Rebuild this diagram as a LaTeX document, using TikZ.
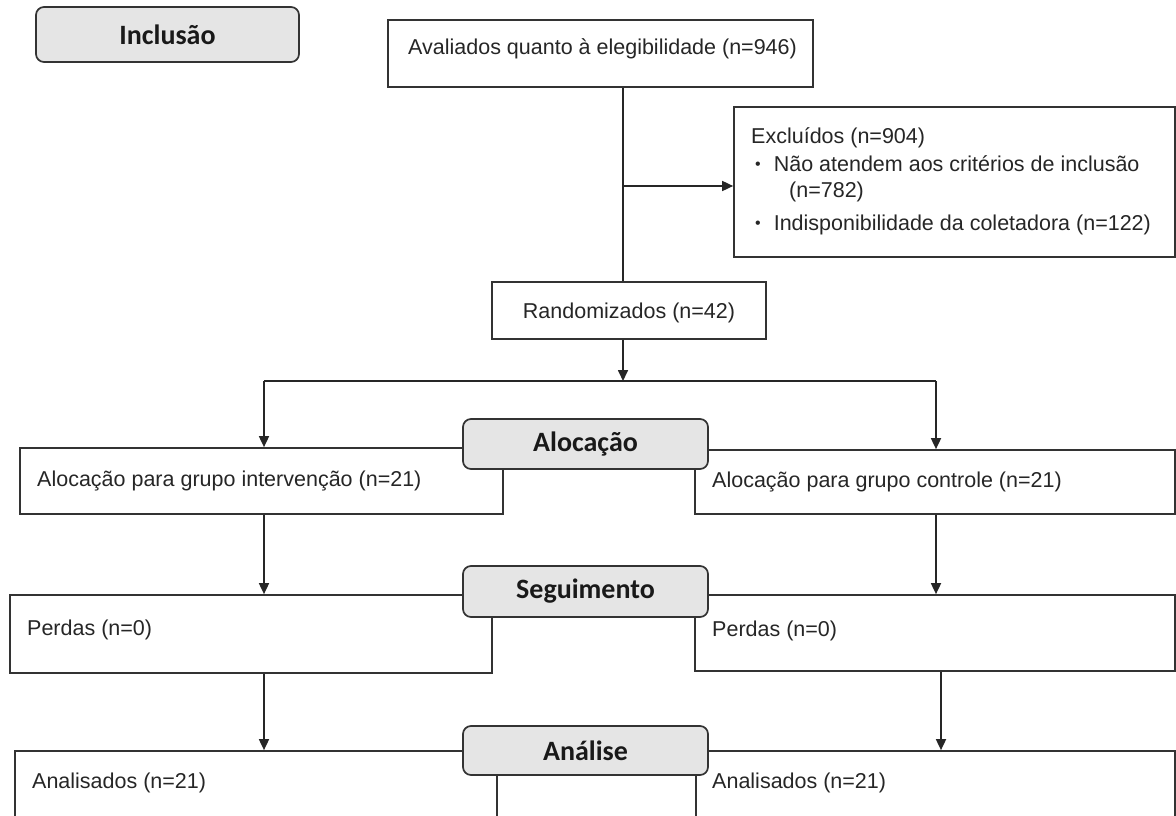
\documentclass[tikz,border=0pt]{standalone}
\usepackage{fontspec}
\setmainfont{Liberation Sans}
\newfontfamily\calibri{Carlito}
\usetikzlibrary{arrows.meta,fit}
\newcommand{\smbullet}{{\fontsize{16}{16}\selectfont\raisebox{1.5pt}{•}}}
\begin{document}
\begin{tikzpicture}[x=1pt,y=-1pt,
  box/.style={draw=black!80, line width=1.7pt, fill=white, inner sep=0pt},
  lbl/.style={draw=black!80, line width=1.7pt, fill=black!10, rounded corners=8pt, inner sep=0pt},
  head/.style={font=\calibri\bfseries\fontsize{28}{30}\selectfont, text=black!90},
  txt/.style={font=\fontsize{21.5}{24}\selectfont, inner sep=0pt, anchor=base west, text=black!85},
  ln/.style={draw=black!85, line width=1.7pt},
  arr/.style={ln, -{Triangle[length=11pt,width=10pt]}}]
\clip (0,0) rectangle (1176,816);
\fill[white] (0,0) rectangle (1176,816);

% boxes
\node[box, fit={(388,20) (813,87)}] (elig) {};
\node[box, fit={(734,107) (1175,257)}] (excl) {};
\node[box, fit={(492,282) (766,339)}] (rand) {};
\node[box, fit={(20,448) (503,514)}] (allocL) {};
\node[box, fit={(695,450) (1175,514)}] (allocR) {};
\node[box, fit={(10,595) (492,673)}] (perdL) {};
\node[box, fit={(695,595) (1175,671)}] (perdR) {};
\node[box, fit={(15,751) (497,840)}] (analL) {};
\node[box, fit={(696,751) (1175,840)}] (analR) {};

% texts
\node[txt] (eligt) at (408,55) {Avaliados quanto à elegibilidade (n=946)};
\node[txt] (ex1) at (751,143) {Excluídos (n=904)};
\node[txt] (ex2) at (755,171) {\smbullet\hspace{13pt}Não atendem aos critérios de inclusão};
\node[txt] (ex3) at (789,197) {(n=782)};
\node[txt] (ex4) at (755,230) {\smbullet\hspace{13pt}Indisponibilidade da coletadora (n=122)};
\node[txt, anchor=base] (randt) at (629,318) {Randomizados (n=42)};
\node[txt] (allocLt) at (37,486) {Alocação para grupo intervenção (n=21)};
\node[txt] (allocRt) at (712,487) {Alocação para grupo controle (n=21)};
\node[txt] (perdLt) at (27,635) {Perdas (n=0)};
\node[txt] (perdRt) at (712,636) {Perdas (n=0)};
\node[txt] (analLt) at (32,788) {Analisados (n=21)};
\node[txt] (analRt) at (712,788) {Analisados (n=21)};

% connectors
\coordinate (jM) at (623,381);
\coordinate (jL) at (264,381);
\coordinate (jR) at (936,381);
\coordinate (jR2) at (941,700);
\coordinate (br) at (623,186);
\draw[ln] (elig.south -| jM) -- (rand.north -| jM);
\draw[arr] (br) -- (excl.west |- br);
\draw[arr] (rand.south -| jM) -- (jM);
\draw[ln] (jL) -- (jR);
\draw[arr] (jL) -- (allocL.north -| jL);
\draw[arr] (jR) -- (allocR.north -| jR);
\draw[arr] (allocL.south -| jL) -- (perdL.north -| jL);
\draw[arr] (allocR.south -| jR) -- (perdR.north -| jR);
\draw[arr] (perdL.south -| jL) -- (analL.north -| jL);
\draw[arr] (perdR.south -| jR2) -- (analR.north -| jR2);

% stage labels
\node[lbl, fit={(36,7) (299,62)}] (incl) {};
\node[lbl, fit={(463,419) (708,469)}] (aloc) {};
\node[lbl, fit={(463,566) (708,617)}] (seg) {};
\node[lbl, fit={(463,726) (708,775)}] (ana) {};
\node[head] (inclt) at (incl.center) {Inclusão};
\node[head] (aloct) at (aloc.center) {Alocação};
\node[head] (segt) at (seg.center) {Seguimento};
\node[head] (anat) at (ana.center) {Análise};
\end{tikzpicture}
\end{document}
